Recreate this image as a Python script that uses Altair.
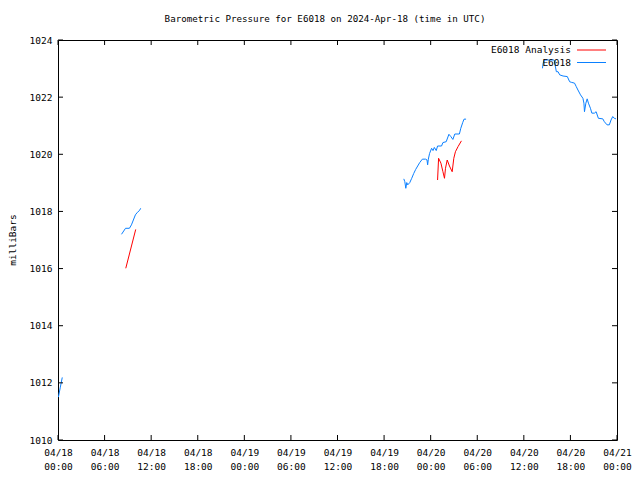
import json
import altair as alt
import pandas as pd

# ---- data (hours since 2024-04-18 00:00 UTC, pressure in millibars) ----
obs1_h = [0.05, 0.30, 0.55]
obs1_p = [1011.50, 1011.85, 1012.19]

obs2_h = [8.18, 8.70, 9.20, 9.46, 9.97, 10.23, 10.49, 10.65]
obs2_p = [1017.20, 1017.41, 1017.41, 1017.53, 1017.88, 1017.97, 1018.03, 1018.11]

obs3_h = [44.54, 44.67, 44.80, 44.92, 45.05, 45.31, 45.56, 45.82, 46.07, 46.33,
          46.59, 46.93, 47.35, 47.53, 47.61, 47.70, 47.86, 48.12, 48.30, 48.47,
          48.72, 48.89, 49.40, 49.58, 50.00, 50.35, 50.60, 50.86, 51.11, 51.70,
          51.88, 52.14, 52.30, 52.56]
obs3_p = [1019.14, 1019.04, 1018.81, 1019.01, 1018.93, 1019.01, 1019.16, 1019.33, 1019.47, 1019.59,
          1019.71, 1019.83, 1019.83, 1019.80, 1019.63, 1019.83, 1020.03, 1020.21, 1020.13, 1020.24,
          1020.13, 1020.29, 1020.29, 1020.41, 1020.44, 1020.70, 1020.62, 1020.52, 1020.71, 1020.71,
          1020.91, 1021.12, 1021.23, 1021.23]

obs4_h = [62.40, 62.49, 62.62, 63.90, 64.19, 64.41, 64.62, 65.05, 65.60, 65.90,
          66.11, 66.53, 66.75, 66.97, 67.30, 67.61, 67.74, 67.81, 67.99, 68.16,
          68.32, 68.58, 68.76, 69.09, 69.31, 69.60, 70.17, 70.37, 70.72, 71.01,
          71.23, 71.45, 71.65, 71.87]
obs4_p = [1023.01, 1023.19, 1023.30, 1023.30, 1022.89, 1022.89, 1022.78, 1022.74, 1022.72, 1022.54,
          1022.52, 1022.49, 1022.37, 1022.25, 1022.08, 1021.96, 1021.79, 1021.49, 1021.79, 1021.94,
          1021.79, 1021.61, 1021.44, 1021.44, 1021.49, 1021.26, 1021.24, 1021.14, 1021.03, 1021.03,
          1021.20, 1021.32, 1021.26, 1021.24]

ana1_h = [8.73, 10.01]
ana1_p = [1016.01, 1017.37]

ana2_h = [48.89, 49.02, 49.32, 49.58, 49.78, 49.91, 50.13, 50.42, 50.77, 50.98,
          51.19, 51.53, 51.96]
ana2_p = [1019.10, 1019.86, 1019.69, 1019.39, 1019.16, 1019.51, 1019.80, 1019.59, 1019.39, 1019.86,
          1020.09, 1020.27, 1020.47]

series_names = ["E6018 Analysis", "E6018"]
series_colors = ["#ff0000", "#0a80ff"]

x_ticks = [0, 6, 12, 18, 24, 30, 36, 42, 48, 54, 60, 66, 72]
x_dates = ["04/18", "04/18", "04/18", "04/18", "04/19", "04/19", "04/19",
           "04/19", "04/20", "04/20", "04/20", "04/20", "04/21"]
x_times = ["00:00", "06:00", "12:00", "18:00", "00:00", "06:00", "12:00",
           "18:00", "00:00", "06:00", "12:00", "18:00", "00:00"]
y_ticks = [1010, 1012, 1014, 1016, 1018, 1020, 1022, 1024]

title_text = "Barometric Pressure for E6018 on 2024-Apr-18 (time in UTC)"
y_title = "milliBars"

# ---- build table ----
rows = []
segments = [
    ("E6018", "o1", obs1_h, obs1_p),
    ("E6018", "o2", obs2_h, obs2_p),
    ("E6018", "o3", obs3_h, obs3_p),
    ("E6018", "o4", obs4_h, obs4_p),
    ("E6018 Analysis", "a1", ana1_h, ana1_p),
    ("E6018 Analysis", "a2", ana2_h, ana2_p),
]
for s, seg, hs, ps in segments:
    for i, (h, p) in enumerate(zip(hs, ps)):
        rows.append({"series": s, "segment": seg, "i": i, "hour": h, "p": p})
df = pd.DataFrame(rows)

W, H = 559, 400
PL, PT, PR, PB = 50, 32, 15, 32   # total 624 x 464 -> fits the 640x480 page with 8px margins
FONT = "DejaVu Sans Mono"
FS = 9.5

xscale = alt.Scale(domain=[0, 72], nice=False, zero=False)
yscale = alt.Scale(domain=[1010, 1024], nice=False, zero=False)

label_expr = "[{d}[round(datum.value/6)], {t}[round(datum.value/6)]]".format(
    d=json.dumps(x_dates).replace('"', "'"), t=json.dumps(x_times).replace('"', "'"))

xaxis = alt.Axis(values=x_ticks, labelExpr=label_expr, ticks=False, domain=False,
                 grid=False, labelPadding=7, labelLineHeight=14,
                 labelFont=FONT, labelFontSize=FS, labelColor="black",
                 labelFlush=False, labelOverlap=False, title=None)
yaxis = alt.Axis(values=y_ticks, ticks=False, domain=False, grid=False,
                 labelPadding=6, labelFont=FONT, labelFontSize=FS,
                 labelColor="black", format="d", title=None)

lines = alt.Chart(df).mark_line(strokeWidth=1, clip=True).encode(
    x=alt.X("hour:Q", scale=xscale, axis=xaxis),
    y=alt.Y("p:Q", scale=yscale, axis=yaxis),
    color=alt.Color("series:N", scale=alt.Scale(domain=series_names, range=series_colors),
                    legend=None),
    detail="segment:N",
    order="i:Q",
)

xt = pd.DataFrame({"h": x_ticks})
yt = pd.DataFrame({"v": y_ticks})
TL = 5
tick_layers = [
    alt.Chart(yt).mark_rule(color="black", strokeWidth=1).encode(
        y=alt.Y("v:Q", scale=yscale, axis=yaxis), x=alt.value(0), x2=alt.value(TL)),
    alt.Chart(yt).mark_rule(color="black", strokeWidth=1).encode(
        y=alt.Y("v:Q", scale=yscale, axis=yaxis), x=alt.value(W - TL), x2=alt.value(W)),
    alt.Chart(xt).mark_rule(color="black", strokeWidth=1).encode(
        x=alt.X("h:Q", scale=xscale, axis=xaxis), y=alt.value(H - TL), y2=alt.value(H)),
    alt.Chart(xt).mark_rule(color="black", strokeWidth=1).encode(
        x=alt.X("h:Q", scale=xscale, axis=xaxis), y=alt.value(0), y2=alt.value(TL)),
]

# legend (gnuplot-style key: text then line sample)
leg_layers = []
for k, (name, col) in enumerate(zip(series_names, series_colors)):
    ly = 10 + 12.5 * k
    ld = pd.DataFrame({"name": [name]})
    leg_layers.append(alt.Chart(ld).mark_text(
        align="right", baseline="middle", font=FONT, fontSize=FS, color="black").encode(
        text="name:N", x=alt.value(W - 46), y=alt.value(ly)))
    leg_layers.append(alt.Chart(ld).mark_rule(color=col, strokeWidth=1).encode(
        x=alt.value(W - 40), x2=alt.value(W - 11), y=alt.value(ly)))

title_layer = alt.Chart(pd.DataFrame({"t": [title_text]})).mark_text(
    align="center", baseline="middle", font=FONT, fontSize=9.2, color="black").encode(
    text="t:N", x=alt.value(267), y=alt.value(-21))

ytitle_layer = alt.Chart(pd.DataFrame({"t": [y_title]})).mark_text(
    align="center", baseline="middle", font=FONT, fontSize=FS, color="black", angle=270).encode(
    text="t:N", x=alt.value(-45), y=alt.value(200))

chart = alt.layer(lines, *tick_layers, *leg_layers, title_layer, ytitle_layer).properties(
    width=W, height=H,
    autosize=alt.AutoSizeParams(type="none"),
    padding={"left": PL, "top": PT, "right": PR, "bottom": PB},
    background="white",
).configure_view(stroke="black", strokeWidth=1)

chart.save("out.html", embed_options={"renderer": "svg", "actions": False})
